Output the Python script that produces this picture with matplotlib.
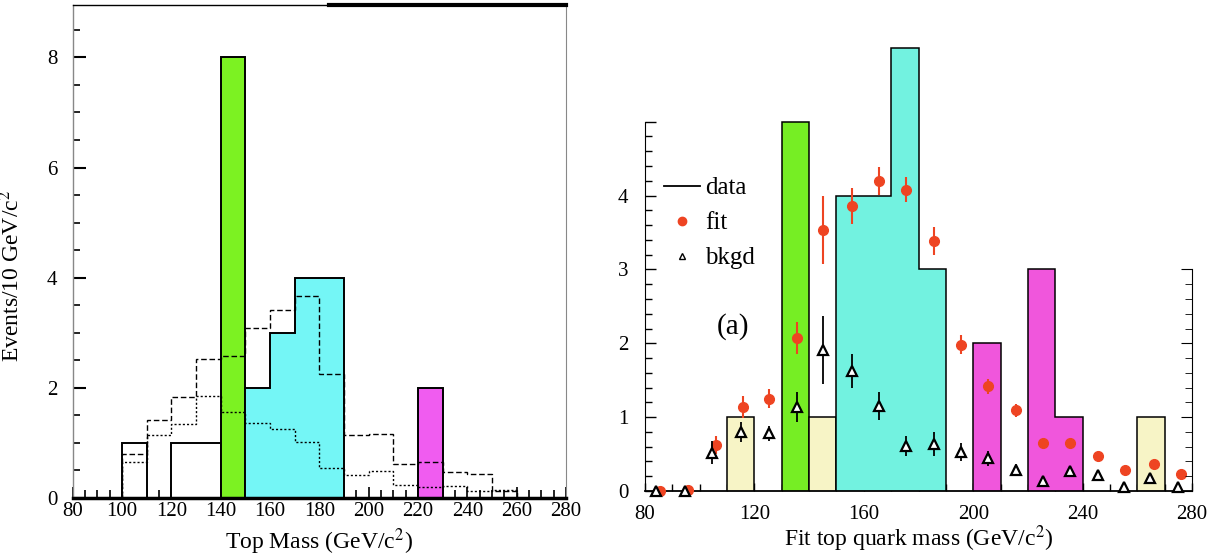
import numpy as np
import matplotlib
matplotlib.use('Agg')
import matplotlib.pyplot as plt
from matplotlib.lines import Line2D
from matplotlib.ticker import MultipleLocator, FixedLocator

plt.rcParams['font.family'] = ['Liberation Serif', 'DejaVu Serif']
plt.rcParams['mathtext.fontset'] = 'stix'

# bin edges (GeV/c^2), 10 GeV bins
edges = np.arange(80, 290, 10)

# left panel: observed events and two expectation curves
left_counts = [0, 0, 1, 0, 1, 1, 8, 2, 3, 4, 4, 0, 0, 0, 2, 0, 0, 0, 0, 0]
left_cat = ['', '', 'plain', '', 'plain', 'plain', 'green', 'cyan', 'cyan', 'cyan',
            'cyan', '', '', '', 'magenta', '', '', '', '', '']
left_upper = [0, 0, 0.80, 1.42, 1.83, 2.52, 2.58, 3.08, 3.42, 3.67,
              2.26, 1.14, 1.16, 0.61, 0.65, 0.47, 0.44, 0.13, 0, 0]
left_lower = [0, 0, 0.65, 1.14, 1.35, 1.86, 1.56, 1.36, 1.25, 1.02,
              0.55, 0.41, 0.49, 0.24, 0.20, 0.21, 0.12, 0.15, 0, 0]

# right panel: data histogram, fit and background points
right_counts = [0, 0, 0, 1, 0, 5, 1, 4, 4, 6, 3, 0, 2, 0, 3, 1, 0, 0, 1, 0]
right_cat = ['', '', '', 'yellow', '', 'green', 'yellow', 'cyan', 'cyan', 'cyan',
             'cyan', '', 'magenta', '', 'magenta', 'magenta', '', '', 'yellow', '']

fit_x = [85.5, 95.8, 106, 116, 125.5, 135.5, 145, 155.5, 165.5, 175.5,
         185.5, 195.5, 205.5, 215.5, 225.5, 235.5, 245.5, 255.5, 266, 276]
fit_y = [0.0, 0.02, 0.62, 1.14, 1.25, 2.07, 3.54, 3.86, 4.20, 4.08,
         3.39, 1.98, 1.42, 1.09, 0.65, 0.65, 0.48, 0.29, 0.36, 0.23]
fit_err = [0, 0, 0.12, 0.15, 0.13, 0.22, 0.46, 0.24, 0.19, 0.17,
           0.19, 0.13, 0.10, 0.09, 0.06, 0.06, 0.05, 0.04, 0.05, 0.05]

bkg_x = [84, 94.5, 104.5, 115, 125.5, 135.5, 145, 155.5, 165.5, 175.5,
         185.5, 195.5, 205.5, 215.5, 225.5, 235.5, 245.5, 255, 264.5, 275]
bkg_y = [0.0, 0.0, 0.52, 0.80, 0.78, 1.14, 1.91, 1.62, 1.15, 0.61,
         0.64, 0.53, 0.44, 0.28, 0.14, 0.27, 0.21, 0.05, 0.17, 0.06]
bkg_err = [0, 0, 0.16, 0.13, 0.10, 0.20, 0.46, 0.23, 0.19, 0.13,
           0.16, 0.12, 0.10, 0.08, 0.05, 0.07, 0.06, 0.05, 0.06, 0.04]

left_colors = {'plain': 'white', 'green': '#7cf222', 'cyan': '#74f6f6', 'magenta': '#f05cf0'}
right_colors = {'yellow': '#f7f4c6', 'green': '#76ee24', 'cyan': '#72f2e0', 'magenta': '#f056dc'}
red = '#ee4422'


def draw_groups(ax, counts, cats, colors, lw):
    # one outlined block per run of bins that share a colour
    i = 0
    n = len(counts)
    while i < n:
        if cats[i] == '':
            i += 1
            continue
        j = i
        while j + 1 < n and cats[j + 1] == cats[i]:
            j += 1
        ax.stairs(counts[i:j + 1], edges[i:j + 2], fill=True,
                  facecolor=colors[cats[i]], edgecolor='black', linewidth=lw, zorder=2)
        i = j + 1


fig = plt.figure(figsize=(12.14, 5.57), dpi=100)

# ---------------- left panel
ax1 = fig.add_axes([0.0599, 0.1059, 0.4063, 0.885])
draw_groups(ax1, left_counts, left_cat, left_colors, 1.4)
ax1.stairs(left_upper, edges, color='black', linestyle=(0, (4, 2)), linewidth=1.0, zorder=3)
ax1.stairs(left_lower, edges, color='black', linestyle=(0, (1.5, 1.5)), linewidth=1.0, zorder=3)

ax1.set_xlim(80, 280)
ax1.set_ylim(0, 8.95)
ax1.set_xticks(np.arange(80, 281, 20))
ax1.xaxis.set_minor_locator(MultipleLocator(5))
ax1.set_yticks([0, 2, 4, 6, 8])
ax1.yaxis.set_minor_locator(MultipleLocator(0.5))
ax1.tick_params(which='both', direction='in', top=False, right=False, labelsize=15)
ax1.tick_params(axis='y', which='major', length=9, width=1.5, pad=11)
ax1.tick_params(axis='y', which='minor', length=5, width=1.2)
ax1.tick_params(axis='x', which='major', length=8, width=1.2, pad=3)
ax1.tick_params(axis='x', which='minor', length=6, width=1.2)
ax1.spines['bottom'].set_linewidth(2.5)
ax1.spines['left'].set_linewidth(1.0)
ax1.spines['left'].set_color('#888888')
ax1.spines['right'].set_linewidth(0.8)
ax1.spines['right'].set_color('#888888')
ax1.spines['top'].set_linewidth(1.0)
ax1.plot([0.52, 1.0], [1, 1], transform=ax1.transAxes, color='black',
         linewidth=3, clip_on=False, zorder=5)
ax1.set_xlabel('Top Mass (GeV/c$^2$)', fontsize=17, labelpad=4)
ax1.set_ylabel('Events/10 GeV/c$^2$', fontsize=17)
ax1.yaxis.set_label_coords(-0.098, 0.45)

# ---------------- right panel
ax2 = fig.add_axes([0.5313, 0.1185, 0.4506, 0.8354])
draw_groups(ax2, right_counts, right_cat, right_colors, 1.1)
ax2.errorbar(fit_x, fit_y, yerr=fit_err, fmt='o', color=red, ms=7,
             elinewidth=1.5, capsize=0, zorder=4, clip_on=False)
ax2.errorbar(bkg_x, bkg_y, yerr=bkg_err, fmt='^', mfc='white', mec='black',
             ecolor='black', ms=7, mew=1.6, elinewidth=1.3, capsize=0, zorder=5, clip_on=False)

ax2.set_xlim(80, 280)
ax2.set_ylim(0, 6.3)
ax2.set_xticks(np.arange(80, 281, 40))
ax2.xaxis.set_minor_locator(MultipleLocator(10))
ax2.set_yticks([0, 1, 2, 3, 4, 5], ['0', '1', '2', '3', '4', ''])
ax2.yaxis.set_minor_locator(FixedLocator(np.arange(0, 5.01, 0.2)))
ax2.tick_params(which='both', direction='in', top=False, right=False, labelsize=15)
ax2.tick_params(axis='y', which='major', length=8, width=1.0, pad=12)
ax2.tick_params(axis='y', which='minor', length=5, width=1.0)
ax2.tick_params(axis='x', which='major', length=6, width=1.0, pad=10)
ax2.tick_params(axis='x', which='minor', length=5, width=1.0)
ax2.spines['top'].set_visible(False)
ax2.spines['right'].set_visible(False)
ax2.spines['left'].set_bounds(0, 5)
ax2.spines['bottom'].set_linewidth(1.3)

axr = ax2.twinx()
axr.set_ylim(ax2.get_ylim())
axr.set_yticks([0, 1, 2, 3], ['', '', '', ''])
axr.yaxis.set_minor_locator(FixedLocator(np.arange(0, 3.01, 0.2)))
axr.tick_params(which='both', direction='in', length=5)
axr.tick_params(which='major', length=8)
for s in ['top', 'left', 'bottom']:
    axr.spines[s].set_visible(False)
axr.spines['right'].set_bounds(0, 3)

ax2.set_xlabel('Fit top quark mass (GeV/c$^2$)', fontsize=17, labelpad=0)

handles = [Line2D([], [], color='black', linewidth=1.3),
           Line2D([], [], color=red, marker='o', linestyle='none', ms=6),
           Line2D([], [], color='black', marker='^', mfc='none', linestyle='none', ms=4)]
ax2.legend(handles, ['data', 'fit', 'bkgd'], loc='upper left', bbox_to_anchor=(0.034, 0.675),
           frameon=False, fontsize=18, handlelength=1.45, handletextpad=0.2,
           labelspacing=0.5, borderaxespad=0, borderpad=0)
ax2.text(112, 2.22, '(a)', fontsize=21, ha='center', va='center')

fig.savefig('out.png', dpi=100)
